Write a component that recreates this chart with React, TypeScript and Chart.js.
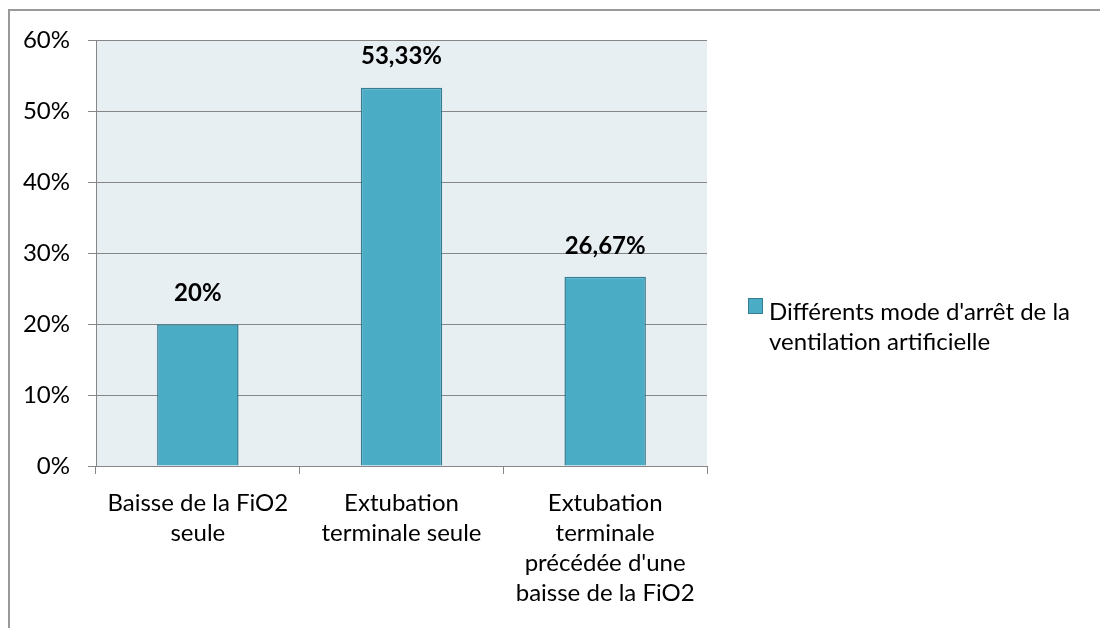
import React, { useEffect, useRef } from "react";
import { Chart, registerables } from "chart.js";

Chart.register(...registerables);

const categories: string[][] = [
  ["Baisse de la FiO2", "seule"],
  ["Extubation", "terminale seule"],
  ["Extubation", "terminale", "précédée d'une", "baisse de la FiO2"],
];
const values: number[] = [0.2, 0.5333, 0.2667];
const seriesName: string[] = ["Différents mode d'arrêt de la", "ventilation artificielle"];
const yTicks: number[] = [0, 0.1, 0.2, 0.3, 0.4, 0.5, 0.6];

const FONT = "Lato, 'Open Sans', sans-serif";
const BAR_FILL = "#4BACC6";
const BAR_BORDER = "#357D92";
const GRID = "#868686";

const fmtPct = (v: number) => {
  const s = (Math.round(v * 10000) / 100).toString();
  return s.replace(".", ",") + "%";
};

const bgPlugin = {
  id: "plotBg",
  beforeDraw(chart: any) {
    const { ctx, chartArea } = chart;
    ctx.save();
    ctx.fillStyle = "#E8EFF3";
    ctx.fillRect(chartArea.left, chartArea.top, chartArea.right - chartArea.left, chartArea.bottom - chartArea.top);
    ctx.restore();
  },
};

const labelPlugin = {
  id: "valueLabels",
  afterDatasetsDraw(chart: any) {
    const { ctx } = chart;
    const meta = chart.getDatasetMeta(0);
    ctx.save();
    ctx.font = `bold 24px ${FONT}`;
    ctx.fillStyle = "#000";
    ctx.textAlign = "center";
    ctx.textBaseline = "middle";
    meta.data.forEach((bar: any, i: number) => {
      ctx.fillText(fmtPct(values[i]), bar.x, bar.y - 31);
    });
    ctx.restore();
  },
};

const legendPlugin = {
  id: "sideLegend",
  afterDraw(chart: any) {
    const { ctx, chartArea } = chart;
    const x0 = chartArea.right + 41;
    const y0 = 290;
    ctx.save();
    ctx.fillStyle = BAR_FILL;
    ctx.fillRect(x0, y0, 15, 16);
    ctx.strokeStyle = BAR_BORDER;
    ctx.lineWidth = 1;
    ctx.strokeRect(x0 + 0.5, y0 + 0.5, 14, 15);
    ctx.font = `24px ${FONT}`;
    ctx.fillStyle = "#000";
    ctx.textAlign = "left";
    ctx.textBaseline = "alphabetic";
    seriesName.forEach((line, i) => {
      ctx.fillText(line, x0 + 21, 312 + i * 30);
    });
    ctx.restore();
  },
};

export default function App() {
  const ref = useRef<HTMLCanvasElement>(null);
  useEffect(() => {
    if (!ref.current) return;
    const chart = new Chart(ref.current, {
      type: "bar",
      data: {
        labels: categories,
        datasets: [
          {
            label: seriesName.join(" "),
            data: values,
            backgroundColor: BAR_FILL,
            borderColor: BAR_BORDER,
            borderWidth: 1.5,
            categoryPercentage: 1,
            barPercentage: 0.4,
          },
        ],
      },
      options: {
        animation: false,
        responsive: false,
        maintainAspectRatio: false,
        layout: { padding: { left: 0, top: 32, right: 401, bottom: 0 } },
        plugins: { legend: { display: false }, tooltip: { enabled: false } },
        scales: {
          x: {
            offset: true,
            grid: { drawOnChartArea: false, drawTicks: true, tickLength: 8, color: GRID, offset: true },
            border: { color: GRID, width: 1 },
            ticks: { color: "#000", font: { family: FONT, size: 24, lineHeight: 1.25 }, padding: 14, maxRotation: 0, autoSkip: false },
            afterFit(scale: any) {
              scale.height = 162;
            },
          },
          y: {
            min: 0,
            max: 0.6,
            afterBuildTicks(scale: any) {
              scale.ticks = yTicks.map((v) => ({ value: v }));
            },
            grid: { color: GRID, tickLength: 8, drawTicks: true },
            border: { color: GRID, width: 1 },
            ticks: {
              color: "#000",
              font: { family: FONT, size: 24 },
              padding: 18,
              callback: (v: any) => Math.round(Number(v) * 100) + "%",
            },
            afterFit(scale: any) {
              scale.width = 88;
            },
          },
        },
      },
      plugins: [bgPlugin, labelPlugin, legendPlugin],
    });
    return () => chart.destroy();
  }, []);

  return (
    <div style={{ position: "relative", width: 1100, height: 620 }}>
      <canvas ref={ref} width={1100} height={620} style={{ display: "block", width: 1100, height: 620 }} />
      <div
        style={{
          position: "absolute",
          left: 0,
          top: 1,
          width: 1100,
          height: 619,
          borderTop: "2px solid #999999",
          borderLeft: "2px solid #999999",
          boxSizing: "border-box",
          pointerEvents: "none",
        }}
      />
    </div>
  );
}
